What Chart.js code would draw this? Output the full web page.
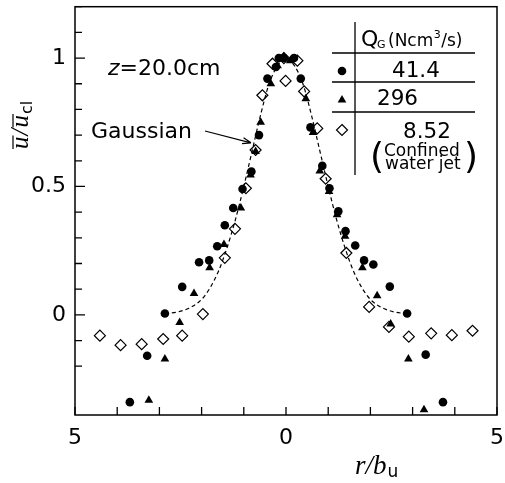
<!DOCTYPE html>
<html>
<head>
<meta charset="utf-8">
<script src="https://cdn.jsdelivr.net/npm/chart.js@4.4.1/dist/chart.umd.min.js"></script>
<style>
  html, body { margin: 0; padding: 0; background: #fff; }
  #profileChart { display: block; }
</style>
</head>
<body>
<canvas id="profileChart" width="505" height="483"></canvas>
<script>
// --- Data (r/b_u vs u/u_cl) ---
const circleX = [-3.70, -3.29, -2.87, -2.46, -2.06, -1.82, -1.63, -1.45, -1.25, -1.03, -0.82, -0.64, -0.44, -0.24, -0.17, -0.05, 0.19, 0.35, 0.58, 0.86, 1.03, 1.24, 1.41, 1.64, 1.85, 2.07, 2.46, 2.87, 3.31, 3.72];
const circleY = [-0.34, -0.159, 0.005, 0.109, 0.205, 0.212, 0.267, 0.349, 0.416, 0.49, 0.558, 0.70, 0.92, 0.965, 1.0, 1.0, 1.0, 0.92, 0.73, 0.58, 0.493, 0.403, 0.326, 0.27, 0.212, 0.196, 0.11, 0.005, -0.155, -0.34];

const triX = [-3.25, -2.87, -2.52, -2.18, -1.81, -1.47, -1.07, -0.84, -0.72, -0.60, -0.36, -0.20, -0.05, 0.10, 0.47, 0.64, 0.80, 1.02, 1.21, 1.40, 1.81, 2.16, 2.48, 2.90, 3.27];
const triY = [-0.333, -0.172, -0.03, 0.083, 0.183, 0.274, 0.416, 0.545, 0.636, 0.75, 0.90, 0.97, 1.005, 0.99, 0.842, 0.71, 0.56, 0.48, 0.39, 0.306, 0.183, 0.074, -0.036, -0.172, -0.37];

const diaX = [-4.41, -3.92, -3.42, -2.91, -2.46, -1.97, -1.45, -1.21, -0.95, -0.72, -0.56, -0.32, -0.05, -0.01, 0.27, 0.43, 0.74, 0.94, 1.43, 1.97, 2.44, 2.91, 3.44, 3.93, 4.42];
const diaY = [-0.081, -0.118, -0.114, -0.094, -0.081, 0.003, 0.222, 0.335, 0.493, 0.642, 0.855, 0.978, 1.0, 0.911, 0.99, 0.87, 0.726, 0.53, 0.241, 0.031, -0.047, -0.085, -0.072, -0.079, -0.062];

const gaussX = [-2.87, -2.6, -2.3, -2.0, -1.8, -1.6, -1.4, -1.2, -1.0, -0.8, -0.6, -0.4, -0.2, 0, 0.2, 0.4, 0.6, 0.8, 1.0, 1.2, 1.4, 1.6, 1.8, 2.0, 2.3, 2.6, 2.87];
const gaussY = [0.005, 0.01, 0.026, 0.06, 0.105, 0.17, 0.26, 0.37, 0.5, 0.64, 0.78, 0.9, 0.97, 1.0, 0.97, 0.9, 0.78, 0.64, 0.5, 0.37, 0.26, 0.17, 0.105, 0.06, 0.026, 0.01, 0.005];

const xTickLabels = [-5, 0, 5];
const yTickLabels = [0, 0.5, 1];
const legendValues = ['41.4', '296', '8.52'];

const toPoints = (xs, ys) => xs.map((x, i) => ({ x: x, y: ys[i] }));
const isLabelled = (list, v) => list.some(t => Math.abs(t - v) < 1e-6);

const FONT = "'DejaVu Sans', sans-serif";
const SERIF = "'Liberation Serif', 'DejaVu Serif', serif";

// --- marker drawing (legend table) ---
function drawMarker(ctx, style, x, y) {
    ctx.save();
    ctx.fillStyle = '#000';
    ctx.strokeStyle = '#000';
    ctx.lineWidth = 1.2;
    ctx.beginPath();
    if (style === 'circle') {
        ctx.arc(x, y, 4.3, 0, Math.PI * 2);
        ctx.fill();
    } else if (style === 'triangle') {
        const r = 5;
        ctx.moveTo(x, y - r);
        ctx.lineTo(x + r * 0.866, y + r * 0.5);
        ctx.lineTo(x - r * 0.866, y + r * 0.5);
        ctx.closePath();
        ctx.fill();
    } else {
        const r = 5.5;
        ctx.moveTo(x, y - r);
        ctx.lineTo(x + r, y);
        ctx.lineTo(x, y + r);
        ctx.lineTo(x - r, y);
        ctx.closePath();
        ctx.stroke();
    }
    ctx.restore();
}

// --- frame, inward ticks, titles, annotations, legend table ---
const decorations = {
    id: 'decorations',
    afterDraw(chart) {
        const ctx = chart.ctx;
        const area = chart.chartArea;
        const xs = chart.scales.x, ys = chart.scales.y;
        ctx.save();
        ctx.strokeStyle = '#000';
        ctx.fillStyle = '#000';

        // frame
        ctx.lineWidth = 1.5;
        ctx.strokeRect(area.left, area.top, area.right - area.left, area.bottom - area.top);

        // inward ticks
        ctx.lineWidth = 1.3;
        ctx.beginPath();
        xs.ticks.forEach(t => {
            if (Math.abs(t.value - Math.round(t.value)) > 1e-6) return;
            const px = xs.getPixelForValue(t.value);
            ctx.moveTo(px, area.bottom);
            ctx.lineTo(px, area.bottom - 8);
        });
        ys.ticks.forEach(t => {
            const v10 = t.value * 10;
            if (Math.abs(v10 - Math.round(v10)) > 1e-6) return;
            const py = ys.getPixelForValue(t.value);
            const major = Math.abs(t.value * 2 - Math.round(t.value * 2)) < 1e-6;
            ctx.moveTo(area.left, py);
            ctx.lineTo(area.left + (major ? 10 : 7), py);
        });
        ctx.stroke();

        // y title: u-bar / u-bar_cl
        ctx.save();
        ctx.translate(28, 149);
        ctx.rotate(-Math.PI / 2);
        ctx.font = 'italic 25px ' + SERIF;
        ctx.textBaseline = 'alphabetic';
        const uw = ctx.measureText('u').width;
        ctx.fillText('u', 0, 0);
        ctx.fillText('/', uw + 1, 0);
        const sw = ctx.measureText('/').width;
        const u2 = uw + sw + 2;
        ctx.fillText('u', u2, 0);
        ctx.lineWidth = 1.2;
        ctx.beginPath();
        ctx.moveTo(0, -15); ctx.lineTo(uw + 1, -15);
        ctx.moveTo(u2, -15); ctx.lineTo(u2 + uw + 1, -15);
        ctx.stroke();
        ctx.font = '16px ' + FONT;
        ctx.fillText('cl', u2 + uw + 1, 4);
        ctx.restore();

        // x title: r/b_u
        ctx.font = 'italic 27px ' + SERIF;
        ctx.textBaseline = 'alphabetic';
        ctx.fillText('r/b', 355, 474);
        const rbw = ctx.measureText('r/b').width;
        ctx.font = '17px ' + FONT;
        ctx.fillText('u', 355 + rbw + 1, 477);

        // z label
        ctx.font = 'oblique 22px ' + FONT;
        ctx.fillText('z', 108, 75);
        const zw = ctx.measureText('z').width;
        ctx.font = '22px ' + FONT;
        ctx.fillText('=20.0cm', 108 + zw, 75);

        // Gaussian annotation with arrow
        ctx.font = '22px ' + FONT;
        ctx.fillText('Gaussian', 91, 138);
        const tipX = xs.getPixelForValue(-0.83), tipY = ys.getPixelForValue(0.67);
        const tailX = 205, tailY = 131;
        ctx.lineWidth = 1.2;
        ctx.beginPath();
        ctx.moveTo(tailX, tailY);
        ctx.lineTo(tipX, tipY);
        const ang = Math.atan2(tipY - tailY, tipX - tailX);
        ctx.moveTo(tipX, tipY);
        ctx.lineTo(tipX - 9 * Math.cos(ang - 0.35), tipY - 9 * Math.sin(ang - 0.35));
        ctx.moveTo(tipX, tipY);
        ctx.lineTo(tipX - 9 * Math.cos(ang + 0.35), tipY - 9 * Math.sin(ang + 0.35));
        ctx.stroke();

        // legend table
        ctx.lineWidth = 1.3;
        ctx.beginPath();
        ctx.moveTo(355, 22); ctx.lineTo(355, 175);
        [53, 82, 112].forEach(y => { ctx.moveTo(332, y); ctx.lineTo(475, y); });
        ctx.stroke();

        ctx.font = '22px ' + FONT;
        ctx.fillText('Q', 361, 46);
        ctx.font = '11px ' + FONT;
        ctx.fillText('G', 377, 48);
        ctx.font = '17px ' + FONT;
        ctx.fillText('(Ncm', 388, 46);
        let hx = 388 + ctx.measureText('(Ncm').width;
        ctx.font = '11px ' + FONT;
        ctx.fillText('3', hx + 0.5, 38);
        hx += ctx.measureText('3').width + 1;
        ctx.font = '17px ' + FONT;
        ctx.fillText('/s)', hx, 46);

        drawMarker(ctx, 'circle', 342, 71);
        drawMarker(ctx, 'triangle', 342, 100);
        drawMarker(ctx, 'diamond', 342, 130);

        ctx.font = '21.5px ' + FONT;
        ctx.fillText(legendValues[0], 392, 77);
        ctx.fillText(legendValues[1], 377, 105);
        ctx.fillText(legendValues[2], 403, 138);

        ctx.font = '17px ' + FONT;
        ctx.fillText('Confined', 384, 156);
        ctx.fillText('water jet', 385, 169);
        ctx.font = '36px ' + FONT;
        ctx.fillText('(', 370, 168);
        ctx.fillText(')', 464, 168);

        ctx.restore();
    }
};

Chart.defaults.font.family = FONT;
Chart.defaults.color = '#000';

new Chart(document.getElementById('profileChart'), {
    type: 'scatter',
    data: {
        datasets: [
            {
                label: 'Gaussian',
                data: toPoints(gaussX, gaussY),
                showLine: true,
                borderColor: '#000',
                borderWidth: 1.2,
                borderDash: [4, 3],
                cubicInterpolationMode: 'monotone',
                pointRadius: 0,
                fill: false
            },
            {
                label: '41.4',
                data: toPoints(circleX, circleY),
                pointStyle: 'circle',
                pointRadius: 4.3,
                backgroundColor: '#000',
                borderColor: '#000',
                borderWidth: 0
            },
            {
                label: '296',
                data: toPoints(triX, triY),
                pointStyle: 'triangle',
                pointRadius: 5,
                backgroundColor: '#000',
                borderColor: '#000',
                borderWidth: 0
            },
            {
                label: '8.52',
                data: toPoints(diaX, diaY),
                pointStyle: 'rectRot',
                pointRadius: 5.5,
                backgroundColor: '#fff',
                borderColor: '#000',
                borderWidth: 1.2
            }
        ]
    },
    options: {
        responsive: false,
        animation: false,
        devicePixelRatio: 1,
        layout: { padding: { top: 5, right: 8, left: 0, bottom: 0 } },
        plugins: { legend: { display: false }, tooltip: { enabled: false } },
        scales: {
            x: {
                type: 'linear',
                min: -5, max: 5,
                grid: { display: false, drawTicks: false },
                border: { display: false },
                ticks: {
                    stepSize: 1,
                    autoSkip: false,
                    maxRotation: 0,
                    padding: 10,
                    font: { size: 22 },
                    callback: v => isLabelled(xTickLabels, v) ? String(Math.abs(Math.round(v))) : ''
                },
                afterFit: s => { s.height = 68; s.paddingLeft = 0; s.paddingRight = 0; }
            },
            y: {
                type: 'linear',
                min: -0.39, max: 1.2,
                grid: { display: false, drawTicks: false },
                border: { display: false },
                ticks: {
                    stepSize: 0.1,
                    autoSkip: false,
                    padding: 9,
                    font: { size: 22 },
                    callback: v => isLabelled(yTickLabels, v) ? String(Math.round(v * 10) / 10) : ''
                },
                afterFit: s => { s.width = 75; s.paddingTop = 0; s.paddingBottom = 0; }
            }
        }
    },
    plugins: [decorations]
});
</script>
</body>
</html>
